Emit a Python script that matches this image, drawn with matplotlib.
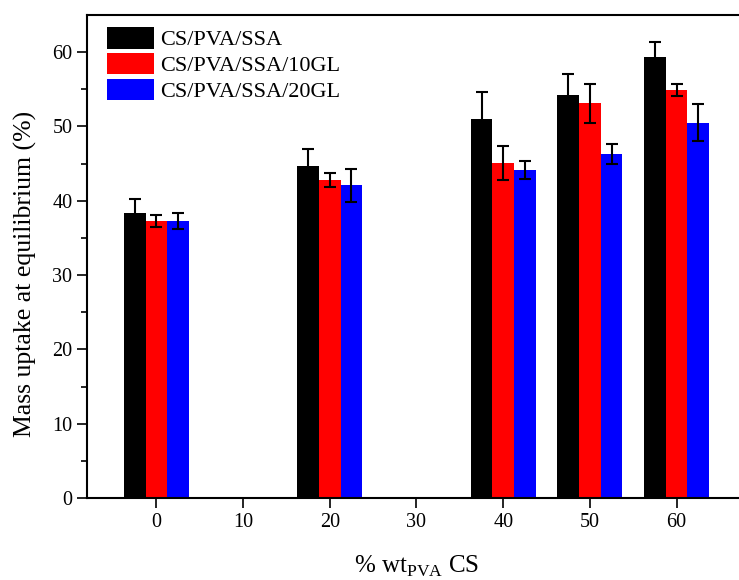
import numpy as np
import matplotlib
matplotlib.use("Agg")
import matplotlib.pyplot as plt

plt.rcParams['font.family'] = ['Liberation Serif', 'DejaVu Serif']
plt.rcParams['mathtext.fontset'] = 'custom'
plt.rcParams['mathtext.rm'] = 'Liberation Serif'

# x categories (% wt PVA in CS); 10 and 30 have no data
categories = ['0', '10', '20', '30', '40', '50', '60']
series_names = ['CS/PVA/SSA', 'CS/PVA/SSA/10GL', 'CS/PVA/SSA/20GL']
series_colors = ['#000000', '#ff0000', '#0000ff']

nan = np.nan
ssa_vals = [38.3, nan, 44.7, nan, 51.0, 54.2, 59.3]
ssa_err = [1.9, nan, 2.2, nan, 3.6, 2.8, 2.0]
gl10_vals = [37.3, nan, 42.8, nan, 45.1, 53.1, 54.9]
gl10_err = [0.85, nan, 1.0, nan, 2.3, 2.6, 0.8]
gl20_vals = [37.3, nan, 42.1, nan, 44.1, 46.3, 50.5]
gl20_err = [1.1, nan, 2.2, nan, 1.2, 1.3, 2.5]

values = [ssa_vals, gl10_vals, gl20_vals]
errors = [ssa_err, gl10_err, gl20_err]

fig = plt.figure(figsize=(7.39, 5.80), dpi=100)
ax = fig.add_axes([87 / 739, 82 / 580, 659 / 739, 483 / 580])

x = np.arange(len(categories))
width = 0.25
for i, (name, color) in enumerate(zip(series_names, series_colors)):
    pos = x + (i - 1) * width
    ax.bar(pos, values[i], width, color=color, label=name, linewidth=0)
    ax.errorbar(pos, values[i], yerr=errors[i], fmt='none', ecolor='black',
                elinewidth=1.5, capsize=4, capthick=1.5)

ax.set_xlim(-0.8, 6.8)
ax.set_ylim(0, 65)
ax.set_xticks(x)
ax.set_xticklabels(categories)
ax.set_yticks(np.arange(0, 61, 10))
ax.set_yticks(np.arange(5, 65, 10), minor=True)
ax.tick_params(axis='both', which='major', direction='out', length=7, width=1.2, labelsize=14.5)
ax.tick_params(axis='y', which='minor', direction='out', length=4, width=1.2)
for sp in ax.spines.values():
    sp.set_linewidth(1.5)

ax.set_ylabel('Mass uptake at equilibrium (%)', fontsize=18.5)
ax.yaxis.set_label_coords(-50 / 659, 0.464)
ax.set_xlabel(r'% wt$_{\mathrm{PVA}}$ CS', fontsize=18, labelpad=16)

ax.legend(loc='upper left', bbox_to_anchor=(8 / 659, 1), frameon=False, fontsize=16,
          handlelength=2.1, handleheight=1.1, labelspacing=0.12, handletextpad=0.3,
          borderaxespad=0.35, borderpad=0.2)

fig.savefig('out.png', dpi=100)
